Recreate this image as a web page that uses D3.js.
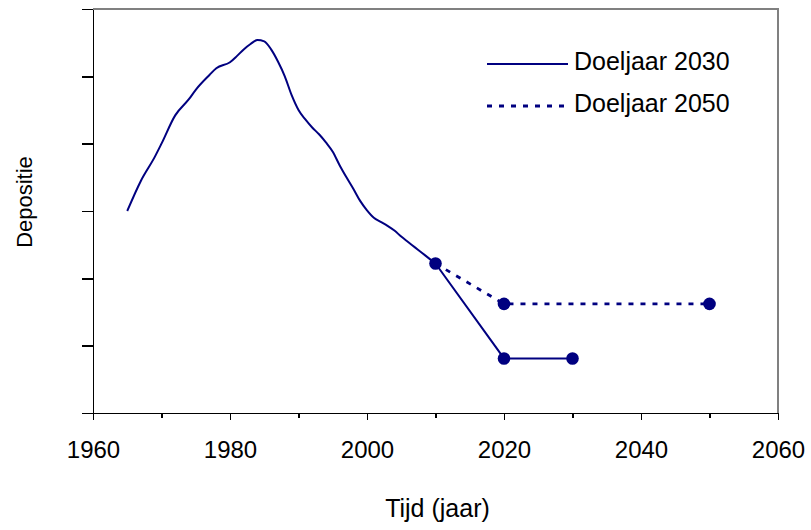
<!DOCTYPE html>
<meta charset="utf-8">
<style>
body {
  margin: 0;
  background-color: #ffffff;
  font-family: 'Liberation Sans', Arial, sans-serif;
}
text {
  font-family: 'Liberation Sans', Arial, sans-serif;
  fill: #000;
}
.axis path,
.axis line {
  fill: none;
  stroke: #000;
  stroke-width: 1.5px;
  shape-rendering: crispEdges;
}
.frame {
  fill: none;
  stroke: #808080;
  stroke-width: 2px;
  shape-rendering: crispEdges;
}
.hist, .target2030 {
  fill: none;
  stroke: #000080;
  stroke-width: 2px;
}
.target2050 {
  fill: none;
  stroke: #000080;
  stroke-width: 2.8px;
  stroke-dasharray: 5,7;
}
.dot {
  fill: #000080;
}
</style>
<svg width="811" height="530"></svg>
<script src="https://d3js.org/d3.v7.min.js"></script>
<script>
// historical deposition (arbitrary units, no y labels in the original)
var histYears  = [1965, 1967, 1969, 1970, 1972, 1974, 1975, 1977, 1978, 1980, 1981, 1982, 1983, 1984, 1985, 1986, 1987,
                  1988, 1989, 1990, 1991, 1992, 1993, 1994, 1995, 1996, 1997, 1998, 1999, 2000, 2001, 2002, 2003, 2004,
                  2005, 2006, 2007, 2008, 2009, 2010];
var histValues = [3.00, 3.45, 3.80, 4.00, 4.42, 4.66, 4.80, 5.02, 5.12, 5.21, 5.30, 5.40, 5.48, 5.54, 5.52, 5.40, 5.22,
                  5.00, 4.72, 4.50, 4.36, 4.24, 4.14, 4.02, 3.88, 3.68, 3.50, 3.33, 3.15, 3.01, 2.90, 2.84, 2.78, 2.71,
                  2.62, 2.54, 2.46, 2.38, 2.30, 2.22];

// target paths
var years2030  = [2010, 2020, 2030];
var values2030 = [2.22, 0.81, 0.81];
var years2050  = [2010, 2020, 2050];
var values2050 = [2.22, 1.62, 1.62];

var xTickValues = [1960, 1980, 2000, 2020, 2040, 2060];
var xMinorTicks = [1970, 1990, 2010, 2030, 2050];
var yTickValues = [0, 1, 2, 3, 4, 5, 6];
var legendLabels = ["Doeljaar 2030", "Doeljaar 2050"];

var svg = d3.select("svg"),
    margin = {top: 9, right: 33, bottom: 117, left: 93},
    width = +svg.attr("width") - margin.left - margin.right,
    height = +svg.attr("height") - margin.top - margin.bottom;

var x = d3.scaleLinear().domain([1960, 2060]).range([0, width]);
var y = d3.scaleLinear().domain([0, 6]).range([height, 0]);

var g = svg.append("g")
    .attr("transform", "translate(" + margin.left + "," + margin.top + ")");

// top and right frame in gray
g.append("path")
    .attr("class", "frame")
    .attr("d", "M0,0H" + width + "V" + height);

// y axis: ticks, no labels
g.append("g")
    .attr("class", "y axis")
    .call(d3.axisLeft(y).tickValues(yTickValues).tickSize(11).tickSizeOuter(0).tickFormat(""));

// x axis minor ticks
g.append("g")
    .attr("class", "x axis minor")
    .attr("transform", "translate(0," + height + ")")
    .call(d3.axisBottom(x).tickValues(xMinorTicks).tickSize(5).tickSizeOuter(0).tickFormat(""))
    .select(".domain").remove();

// x axis major ticks with labels
var xAxis = g.append("g")
    .attr("class", "x axis")
    .attr("transform", "translate(0," + height + ")")
    .call(d3.axisBottom(x).tickValues(xTickValues).tickSize(7).tickSizeOuter(0).tickFormat(d3.format("d")));

xAxis.selectAll("text")
    .attr("y", 0)
    .attr("dy", 0)
    .attr("transform", "translate(0,45)")
    .style("font-size", "24px")
    .style("font-family", "'Liberation Sans', Arial, sans-serif")
    .attr("fill", "#000");

// axis titles
svg.append("text")
    .attr("x", margin.left + width / 2 + 2)
    .attr("y", 517)
    .attr("text-anchor", "middle")
    .style("font-size", "25px")
    .text("Tijd (jaar)");

svg.append("text")
    .attr("transform", "translate(32,202) rotate(-90)")
    .attr("text-anchor", "middle")
    .style("font-size", "22px")
    .text("Depositie");

// historical line
var hist = histYears.map(function(d, i) { return {year: d, value: histValues[i]}; });
var t2030 = years2030.map(function(d, i) { return {year: d, value: values2030[i]}; });
var t2050 = years2050.map(function(d, i) { return {year: d, value: values2050[i]}; });

var smooth = d3.line()
    .x(function(d) { return x(d.year); })
    .y(function(d) { return y(d.value); })
    .curve(d3.curveMonotoneX);

var straight = d3.line()
    .x(function(d) { return x(d.year); })
    .y(function(d) { return y(d.value); });

g.append("path").datum(hist).attr("class", "hist").attr("d", smooth);
g.append("path").datum(t2050).attr("class", "target2050").attr("d", straight);
g.append("path").datum(t2030).attr("class", "target2030").attr("d", straight);

g.selectAll(".dot")
    .data(t2030.concat(t2050.slice(1)))
  .enter().append("circle")
    .attr("class", "dot")
    .attr("cx", function(d) { return x(d.year); })
    .attr("cy", function(d) { return y(d.value); })
    .attr("r", 6.3);

// legend
var legend = svg.append("g").attr("transform", "translate(487,0)");
var legendY = [64, 106];

legend.selectAll(".lg-line")
    .data(legendLabels)
  .enter().append("line")
    .attr("class", function(d, i) { return i === 0 ? "target2030" : "target2050"; })
    .attr("x1", 0)
    .attr("x2", function(d, i) { return i === 0 ? 81 : 78; })
    .attr("y1", function(d, i) { return legendY[i]; })
    .attr("y2", function(d, i) { return legendY[i]; });

legend.selectAll(".lg-text")
    .data(legendLabels)
  .enter().append("text")
    .attr("x", 87)
    .attr("y", function(d, i) { return legendY[i] + 6; })
    .style("font-size", "25px")
    .text(function(d) { return d; });
</script>
